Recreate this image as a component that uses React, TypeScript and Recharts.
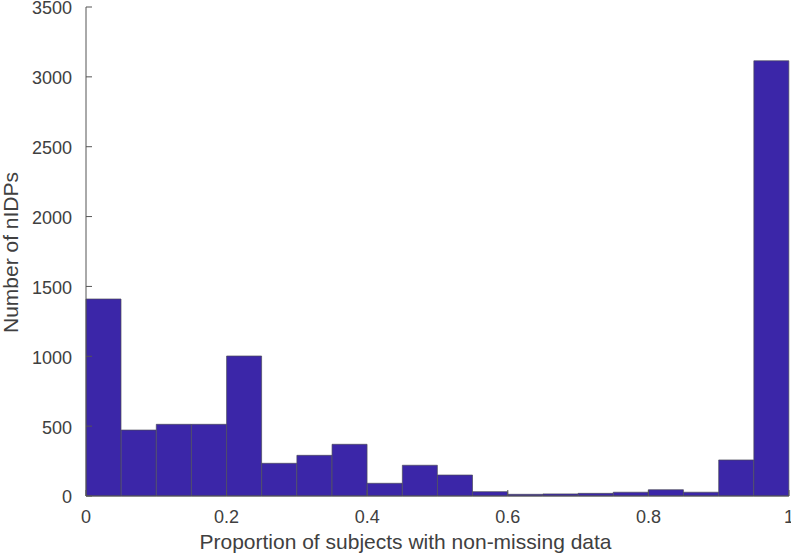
import React from "react";
import { BarChart, Bar, XAxis, YAxis } from "recharts";

const binLabels = [
  "0.00-0.05", "0.05-0.10", "0.10-0.15", "0.15-0.20", "0.20-0.25",
  "0.25-0.30", "0.30-0.35", "0.35-0.40", "0.40-0.45", "0.45-0.50",
  "0.50-0.55", "0.55-0.60", "0.60-0.65", "0.65-0.70", "0.70-0.75",
  "0.75-0.80", "0.80-0.85", "0.85-0.90", "0.90-0.95", "0.95-1.00",
];
const binCenters = [
  0.025, 0.075, 0.125, 0.175, 0.225, 0.275, 0.325, 0.375, 0.425, 0.475,
  0.525, 0.575, 0.625, 0.675, 0.725, 0.775, 0.825, 0.875, 0.925, 0.975,
];
const counts = [
  1410, 472, 513, 513, 1002, 234, 291, 370, 91, 220,
  150, 31, 12, 15, 19, 27, 45, 27, 258, 3115,
];
const xTicks = [0, 0.2, 0.4, 0.6, 0.8, 1];
const yTicks = [0, 500, 1000, 1500, 2000, 2500, 3000, 3500];

const data = binLabels.map((bin, i) => ({ bin, center: binCenters[i], count: counts[i] }));

const FONT = "'Liberation Sans', Arial, Helvetica, sans-serif";
const TEXT = "#404040";
const LINE = "#555555";

const XLabel = (props: any) => {
  const vb = props.viewBox || {};
  return (
    <text
      x={vb.x + vb.width / 2 - 32}
      y={vb.y + 53}
      textAnchor="middle"
      fontFamily={FONT}
      fontSize={21}
      fill={TEXT}
    >
      Proportion of subjects with non-missing data
    </text>
  );
};

const YLabel = (props: any) => {
  const vb = props.viewBox || {};
  const cx = 18;
  const cy = vb.y + vb.height / 2 + 1;
  return (
    <text
      x={cx}
      y={cy}
      transform={`rotate(-90, ${cx}, ${cy})`}
      textAnchor="middle"
      fontFamily={FONT}
      fontSize={21}
      fill={TEXT}
    >
      Number of nIDPs
    </text>
  );
};

export default function App() {
  return (
    <div style={{ position: "absolute", left: 0, top: 0, background: "#fff" }}>
      <BarChart
        width={791}
        height={558}
        data={data}
        margin={{ top: 7, right: 2, left: 0, bottom: 0 }}
        barCategoryGap={0}
        barGap={0}
      >
        <XAxis
          xAxisId="num"
          dataKey="center"
          type="number"
          domain={[0, 1]}
          ticks={xTicks}
          height={62}
          tickSize={-6}
          tickMargin={20}
          stroke={LINE}
          tick={{ fill: TEXT, fontSize: 18, fontFamily: FONT }}
          interval={0}
          label={<XLabel />}
        />
        <XAxis xAxisId="cat" dataKey="bin" type="category" height={0} hide />
        <XAxis
          xAxisId="top"
          orientation="top"
          dataKey="center"
          type="number"
          domain={[0, 1]}
          height={0}
          tick={false}
          tickLine={false}
          stroke={LINE}
        />
        <YAxis
          yAxisId="left"
          type="number"
          domain={[0, 3500]}
          ticks={yTicks}
          width={86}
          tickSize={-6}
          tickMargin={20}
          stroke={LINE}
          tick={{ fill: TEXT, fontSize: 18, fontFamily: FONT, dy: 1 }}
          interval={0}
          label={<YLabel />}
        />
        <YAxis
          yAxisId="right"
          orientation="right"
          type="number"
          domain={[0, 3500]}
          width={0}
          tick={false}
          tickLine={false}
          stroke={LINE}
        />
        <Bar
          dataKey="count"
          xAxisId="cat"
          yAxisId="left"
          fill="#3b26a8"
          stroke="#4a4a5a"
          strokeWidth={0.7}
          isAnimationActive={false}
        />
      </BarChart>
    </div>
  );
}
